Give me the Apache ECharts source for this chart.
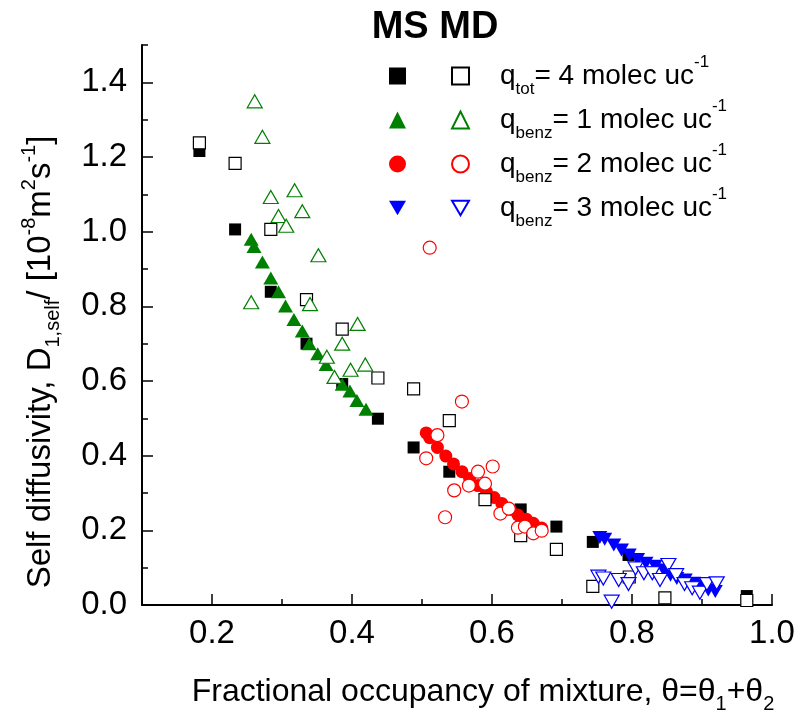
<!DOCTYPE html>
<html>
<head>
<meta charset="utf-8">
<script src="https://cdn.jsdelivr.net/npm/echarts@6/dist/echarts.min.js"></script>
<style>
html,body{margin:0;padding:0;background:#fff;}
#chart{width:807px;height:722px;}
</style>
</head>
<body>
<div id="chart"></div>
<script>
// ---- data ----
var totFilledX = [0.182,0.233,0.284,0.335,0.386,0.437,0.488,0.539,0.641,0.692,0.744,0.795,0.964];
var totFilledY = [1.216,1.006,0.839,0.700,0.592,0.499,0.422,0.357,0.256,0.210,0.169,0.134,0.024];

var totOpenX = [0.182,0.233,0.284,0.335,0.386,0.437,0.488,0.539,0.590,0.641,0.692,0.744,0.796,0.847,0.964];
var totOpenY = [1.238,1.183,1.006,0.818,0.739,0.608,0.579,0.494,0.282,0.186,0.149,0.050,0.075,0.019,0.012];

var b1FilledX = [0.256,0.260,0.272,0.284,0.295,0.305,0.317,0.329,0.339,0.351,0.363,0.375,0.386,0.397,0.407,0.420];
var b1FilledY = [0.980,0.960,0.919,0.876,0.839,0.801,0.765,0.734,0.700,0.673,0.644,0.611,0.591,0.573,0.548,0.524];

var b1OpenX = [0.256,0.261,0.272,0.284,0.295,0.306,0.318,0.329,0.340,0.352,0.364,0.375,0.386,0.398,0.408,0.419];
var b1OpenY = [0.811,1.349,1.254,1.093,1.042,1.016,1.111,1.055,0.806,0.937,0.665,0.611,0.700,0.630,0.753,0.644];

var b2FilledX = [0.506,0.511,0.522,0.534,0.545,0.557,0.568,0.580,0.592,0.603,0.614,0.626,0.637,0.649,0.659,0.671];
var b2FilledY = [0.461,0.448,0.422,0.399,0.378,0.357,0.339,0.320,0.304,0.288,0.272,0.256,0.241,0.230,0.219,0.206];

var b2OpenX = [0.506,0.511,0.522,0.533,0.546,0.557,0.567,0.580,0.590,0.601,0.612,0.624,0.637,0.647,0.659,0.671];
var b2OpenY = [0.393,0.957,0.455,0.235,0.307,0.545,0.320,0.357,0.325,0.371,0.245,0.258,0.207,0.210,0.192,0.199];

var b3FilledX = [0.754,0.761,0.774,0.785,0.796,0.808,0.820,0.833,0.845,0.855,0.864,0.876,0.888,0.900,0.909,0.919];
var b3FilledY = [0.181,0.176,0.161,0.147,0.134,0.122,0.112,0.104,0.094,0.080,0.071,0.067,0.058,0.051,0.040,0.036];

var b3OpenX = [0.752,0.759,0.771,0.781,0.795,0.805,0.817,0.829,0.840,0.852,0.863,0.875,0.886,0.897,0.907,0.921];
var b3OpenY = [0.076,0.071,0.009,0.067,0.056,0.098,0.085,0.085,0.067,0.107,0.080,0.056,0.045,0.033,0.056,0.058];

var xLabelTicks = [0.2,0.4,0.6,0.8,1.0];
var xMinorTicks = [0.3,0.5,0.7,0.9];
var yLabelTicks = [0.0,0.2,0.4,0.6,0.8,1.0,1.2,1.4];
var yMinorTicks = [0.1,0.3,0.5,0.7,0.9,1.1,1.3,1.5];

var legendNames = ['q_tot','q_benz1','q_benz2','q_benz3'];
var legendTexts = {
  'q_tot':   '{q|q}{sub|tot}{m|= 4 molec uc}{sup|-1}',
  'q_benz1': '{q|q}{sub|benz}{m|= 1 molec uc}{sup|-1}',
  'q_benz2': '{q|q}{sub|benz}{m|= 2 molec uc}{sup|-1}',
  'q_benz3': '{q|q}{sub|benz}{m|= 3 molec uc}{sup|-1}'
};

// ---- chart ----
var FONT = 'Liberation Sans';
function zip(xs, ys){ return xs.map(function(x,i){ return [x, ys[i]]; }); }

var GREEN = '#008000', RED = '#ff0000', BLUE = '#0000ff', BLACK = '#000000';
var DOWN_TRI = 'path://M0,0L15,0L7.5,13Z';

function filled(name, xs, ys, symbol, size, color){
  return {
    type:'scatter', name:name, data:zip(xs,ys), symbol:symbol, symbolSize:size,
    itemStyle:{color:color, opacity:1}, emphasis:{disabled:true}, animation:false
  };
}
function open(name, xs, ys, symbol, size, color){
  return {
    type:'scatter', name:name, data:zip(xs,ys), symbol:symbol, symbolSize:size,
    itemStyle:{color:'#ffffff', borderColor:color, borderWidth:1.2, opacity:1},
    emphasis:{disabled:true}, animation:false
  };
}

var series = [
  filled('f_tot', totFilledX, totFilledY, 'rect', 12, BLACK),
  filled('f_b1', b1FilledX, b1FilledY, 'triangle', [15,13], GREEN),
  filled('f_b2', b2FilledX, b2FilledY, 'circle', 13, RED),
  filled('f_b3', b3FilledX, b3FilledY, DOWN_TRI, [15,13], BLUE),
  open('q_tot', totOpenX, totOpenY, 'rect', 12, BLACK),
  open('q_benz1', b1OpenX, b1OpenY, 'triangle', [15,13], GREEN),
  open('q_benz2', b2OpenX, b2OpenY, 'circle', 13, RED),
  open('q_benz3', b3OpenX, b3OpenY, DOWN_TRI, [15,13], BLUE)
];

var legendRich = {
  q:{fontFamily:FONT, fontSize:28, lineHeight:44, color:'#000', padding:[0,0,0,26]},
  m:{fontFamily:FONT, fontSize:28, lineHeight:44, color:'#000'},
  sub:{fontFamily:FONT, fontSize:17, lineHeight:15, verticalAlign:'bottom', color:'#000'},
  sup:{fontFamily:FONT, fontSize:17, lineHeight:24, verticalAlign:'top', color:'#000'}
};

function axisNameRich(size){
  return {
    m:{fontFamily:FONT, fontSize:size, lineHeight:44, color:'#000'},
    sub:{fontFamily:FONT, fontSize:20, lineHeight:18, verticalAlign:'bottom', color:'#000'},
    sup:{fontFamily:FONT, fontSize:20, lineHeight:26, verticalAlign:'top', color:'#000'}
  };
}

var axisLineStyle = {color:'#000', width:2};
var tickStyle = {color:'#000', width:1.5};

var option = {
  backgroundColor:'#ffffff',
  animation:false,
  title:{
    text:'MS MD', left:430, top:4, textAlign:'center',
    textStyle:{fontFamily:FONT, fontSize:38, fontWeight:'bold', color:'#000'}
  },
  grid:{left:142, right:35, top:45, bottom:117, containLabel:false},
  legend:[
    {
      data:['f_tot','f_b1','f_b2','f_b3'], orient:'vertical', left:389, top:54,
      itemWidth:17, itemHeight:17, itemGap:0, padding:0, selectedMode:false,
      formatter:function(){ return ' '; },
      textStyle:{fontFamily:FONT, fontSize:28, lineHeight:44, color:'#000'}
    },
    {
      data:legendNames, orient:'vertical', left:451, top:54,
      itemWidth:17, itemHeight:17, itemGap:0, padding:0, selectedMode:false,
      formatter:function(n){ return legendTexts[n]; },
      textStyle:{fontFamily:FONT, fontSize:28, lineHeight:44, color:'#000', rich:legendRich}
    }
  ],
  xAxis:[
    {
      type:'value', min:0.1, max:1.0, position:'bottom',
      axisLine:{show:true, onZero:false, lineStyle:axisLineStyle},
      axisTick:{show:true, inside:true, length:11, lineStyle:tickStyle, customValues:xLabelTicks},
      axisLabel:{show:true, customValues:xLabelTicks, margin:12, fontFamily:FONT, fontSize:33, color:'#000',
        formatter:function(v){ return v.toFixed(1); }},
      splitLine:{show:false},
      name:'{m|Fractional occupancy of mixture, θ=θ}{sub|1}{m|+θ}{sub|2}',
      nameLocation:'middle', nameGap:65,
      nameTextStyle:{rich:axisNameRich(32), padding:[0,0,0,52]}
    },
    {
      type:'value', min:0.1, max:1.0, position:'bottom',
      axisLine:{show:false},
      axisTick:{show:true, inside:true, length:6, lineStyle:tickStyle, customValues:xMinorTicks},
      axisLabel:{show:false},
      splitLine:{show:false}
    }
  ],
  yAxis:[
    {
      type:'value', min:0, max:1.5, position:'left',
      axisLine:{show:true, onZero:false, lineStyle:axisLineStyle},
      axisTick:{show:true, inside:true, length:11, lineStyle:tickStyle, customValues:yLabelTicks},
      axisLabel:{show:true, customValues:yLabelTicks, margin:15, fontFamily:FONT, fontSize:33, color:'#000',
        formatter:function(v){ return v.toFixed(1); }},
      splitLine:{show:false},
      name:'{m|Self diffusivity, D}{sub|1,self}{m|/ [10}{sup|-8}{m|m}{sup|2}{m|s}{sup|-1}{m|]}',
      nameLocation:'middle', nameGap:79, nameRotate:90,
      nameTextStyle:{rich:axisNameRich(33), padding:[0,74,0,0]}
    },
    {
      type:'value', min:0, max:1.5, position:'left',
      axisLine:{show:false},
      axisTick:{show:true, inside:true, length:6, lineStyle:tickStyle, customValues:yMinorTicks},
      axisLabel:{show:false},
      splitLine:{show:false}
    }
  ],
  series:series
};

var chart = echarts.init(document.getElementById('chart'), null, {renderer:'canvas'});
chart.setOption(option);
</script>
</body>
</html>
